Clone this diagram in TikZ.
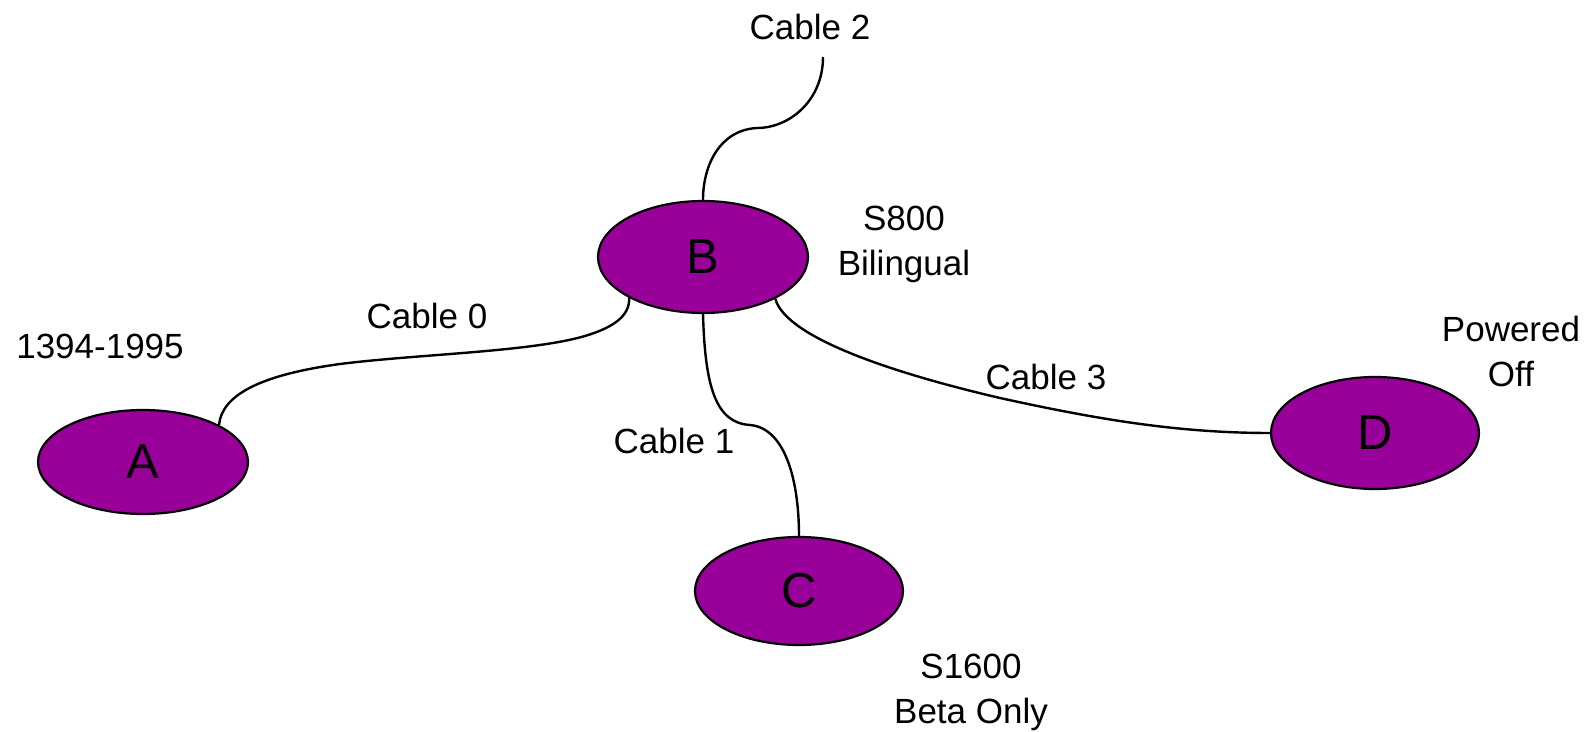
\documentclass[tikz,border=0pt]{standalone}
\usepackage{fontspec}
\setmainfont{Liberation Sans}
\usetikzlibrary{shapes.geometric}
\definecolor{nodepurple}{RGB}{153,0,153}
\tikzset{
  station/.style={ellipse, draw=black, line width=1.1pt, fill=nodepurple,
    minimum width=105pt, minimum height=55pt, inner sep=0pt,
    font=\fontsize{24.5}{29}\selectfont},
  cable/.style={draw=black, line width=1.2pt},
  note/.style={inner sep=0pt, align=center, font=\fontsize{17.5}{22.5}\selectfont},
}
\begin{document}
\begin{tikzpicture}[x=0.5pt,y=-0.5pt]
  \useasboundingbox (0,0) rectangle (1591,732);

  % stations
  \node[station, minimum height=52pt] (A) at (143,462) {A};
  \node[station, minimum height=56pt] (B) at (703,257) {B};
  \node[station, minimum width=104pt, minimum height=54pt] (C) at (799,591) {C};
  \node[station, minimum width=104pt, minimum height=56pt] (D) at (1375,433) {D};
  \coordinate (c2end) at (823,57);

  % cables
  \draw[cable] (A.26.6) .. controls (222,395) and (260,375) .. (340,364)
    .. controls (420,354) and (530,352) .. (585,336)
    .. controls (615,327) and (630,315) .. (B.209.3);
  \draw[cable] (B.south) .. controls (705,385) and (715,423) .. (750,425)
    .. controls (785,428) and (799,480) .. (C.north);
  \draw[cable] (B.north) .. controls (703,165) and (720,130) .. (757,128)
    .. controls (790,128) and (823,100) .. (c2end);
  \draw[cable] (B.330.7) .. controls (785,335) and (880,370) .. (1000,398)
    .. controls (1100,420) and (1180,433) .. (D.west);

  % labels
  \node[note] (lblA) at (100,346) {1394-1995};
  \node[note] (lblB) at (904,244) {S800\\Bilingual};
  \node[note] (lblC) at (971,692) {S1600\\Beta Only};
  \node[note] (lblD) at (1511,351) {Powered\\Off};
  \node[note] (cab0) at (427,316) {Cable 0};
  \node[note] (cab1) at (674,441) {Cable 1};
  \node[note] (cab2) at (810,27) {Cable 2};
  \node[note] (cab3) at (1046,377) {Cable 3};
\end{tikzpicture}
\end{document}
